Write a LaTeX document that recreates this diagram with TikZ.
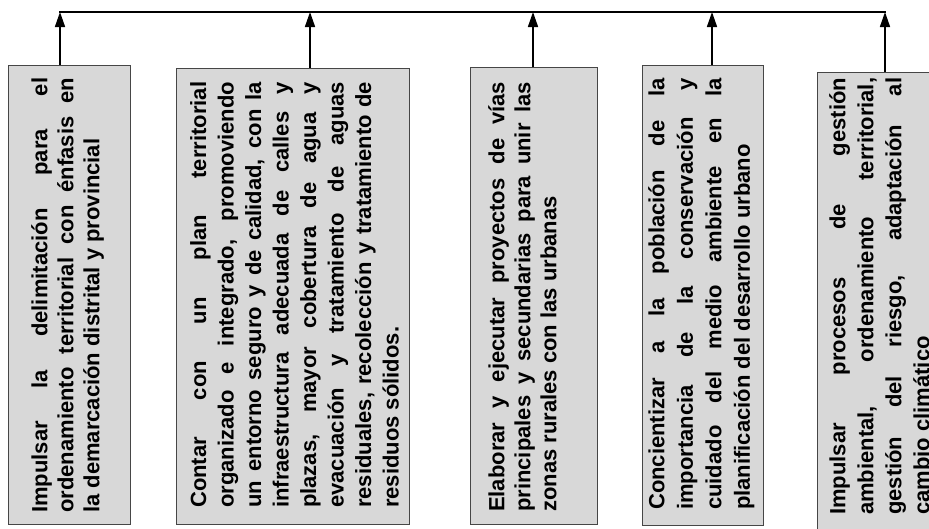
\documentclass[tikz,border=0pt]{standalone}
\usepackage{fontspec}
\setmainfont{Liberation Sans}
\usetikzlibrary{arrows.meta}
\definecolor{boxfill}{RGB}{216,216,216}
\definecolor{boxline}{RGB}{70,70,70}
\tikzset{
  box/.style={draw=boxline, line width=1pt, fill=boxfill, inner sep=0pt},
  txt/.style={rotate=90, anchor=north west, inner sep=0pt, align=justify},
  conn/.style={line width=1.6pt, -{Triangle[length=15pt,width=10pt]}},
  topline/.style={line width=1.8pt}
}
\newcommand{\tf}[1]{\bfseries\fontsize{22}{#1}\selectfont}
\begin{document}
\begin{tikzpicture}[x=1pt,y=-1pt]
\clip (0,0) rectangle (929,528);
\fill[white] (0,0) rectangle (929,528);
% boxes
\node[box, minimum width=122pt, minimum height=459pt] (b1) at (69,294.5) {};
\node[box, minimum width=233pt, minimum height=456pt] (b2) at (292.5,296) {};
\node[box, minimum width=127pt, minimum height=457pt] (b3) at (533.5,295.5) {};
\node[box, minimum width=121pt, minimum height=460pt] (b4) at (702.5,295) {};
\node[box, minimum width=130pt, minimum height=470pt] (b5) at (882,307) {};
% texts
\node[txt, text width=435pt, font=\tf{26}] (x1) at (31,513) {Impulsar la delimitación para el\linebreak ordenamiento territorial con énfasis en\linebreak la demarcación distrital y provincial};
\node[txt, text width=426pt, font=\tf{27.5}] (x2) at (190,508) {Contar con un plan territorial\linebreak organizado e integrado, promoviendo\linebreak un entorno seguro y de calidad, con la\linebreak infraestructura adecuada de calles y\linebreak plazas, mayor cobertura de agua y\linebreak evacuación y tratamiento de aguas\linebreak residuales, recolección y tratamiento de\linebreak residuos sólidos.};
\node[txt, text width=430pt, font=\tf{26}] (x3) at (488,512) {Elaborar y ejecutar proyectos de vías\linebreak principales y secundarias para unir las\linebreak zonas rurales con las urbanas};
\node[txt, text width=432pt, font=\tf{28.5}] (x4) at (648,510) {Concientizar a la población de la\linebreak importancia de la conservación y\linebreak cuidado del medio ambiente en la\linebreak planificación del desarrollo urbano};
\node[txt, text width=437pt, font=\tf{28}] (x5) at (829,515) {Impulsar procesos de gestión\linebreak ambiental, ordenamiento territorial,\linebreak gestión del riesgo, adaptación al\linebreak cambio climático};
% connectors
\coordinate (t1) at (60,12);
\coordinate (t2) at (310,12);
\coordinate (t3) at (533,12);
\coordinate (t4) at (712,12);
\coordinate (t5) at (885,12);
\draw[topline] ([xshift=-0.8pt]t1) -- ([xshift=0.8pt]t5);
\draw[conn] (b1.north -| t1) -- (t1);
\draw[conn] (b2.north -| t2) -- (t2);
\draw[conn] (b3.north -| t3) -- (t3);
\draw[conn] (b4.north -| t4) -- (t4);
\draw[conn] (b5.north -| t5) -- (t5);
\end{tikzpicture}
\end{document}
